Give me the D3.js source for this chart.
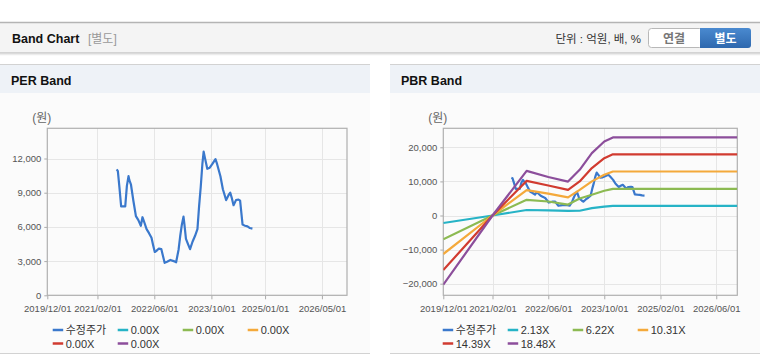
<!DOCTYPE html>
<html>
<head>
<meta charset="utf-8">
<script src="https://cdn.jsdelivr.net/npm/d3@7"></script>
<style>
  body { margin: 0; background: #fff; }
  svg { display: block; font-family: "Liberation Sans", "Noto Sans CJK KR", sans-serif; }
</style>
</head>
<body>
<svg id="chart" width="760" height="364"></svg>
<script>
// ---- data ----
var perTicks = ["2019/12/01", "2021/02/01", "2022/06/01", "2023/10/01", "2025/01/01", "2026/05/01"];
var pbrTicks = ["2019/12/01", "2021/02/01", "2022/06/01", "2023/10/01", "2025/02/01", "2026/06/01"];
var perYTicks = [0, 3000, 6000, 9000, 12000];
var pbrYTicks = [-20000, -10000, 0, 10000, 20000];

var perLegend = ["수정주가", "0.00X", "0.00X", "0.00X", "0.00X", "0.00X"];
var pbrLegend = ["수정주가", "2.13X", "6.22X", "10.31X", "14.39X", "18.48X"];
var seriesColors = ["#3a78cc", "#26b3c6", "#8cba52", "#f4a93b", "#d13b30", "#8c4e9b"];

// adjusted share price (수정주가)
var priceDates = [
  "2021/07/15", "2021/07/25", "2021/08/08", "2021/08/22", "2021/09/05", "2021/09/26",
  "2021/10/10", "2021/10/24", "2021/10/31", "2021/11/14", "2021/12/05", "2021/12/26",
  "2022/01/16", "2022/02/06", "2022/02/20", "2022/03/06", "2022/03/27", "2022/04/17",
  "2022/05/08", "2022/05/22", "2022/06/05", "2022/06/19", "2022/07/10", "2022/07/31",
  "2022/08/14", "2022/08/28", "2022/09/18", "2022/10/16", "2022/11/13", "2022/12/04",
  "2022/12/25", "2023/01/08", "2023/01/22", "2023/02/05", "2023/02/12", "2023/02/26",
  "2023/03/19", "2023/04/02", "2023/04/23", "2023/05/14", "2023/06/04", "2023/06/18",
  "2023/07/02", "2023/07/16", "2023/07/27", "2023/08/06", "2023/08/27", "2023/09/17",
  "2023/10/08", "2023/11/05", "2023/11/19", "2023/12/17", "2024/01/07", "2024/02/04",
  "2024/02/25", "2024/03/10", "2024/03/24", "2024/04/07", "2024/04/28", "2024/05/19",
  "2024/06/02", "2024/06/23", "2024/07/14", "2024/08/04", "2024/08/25", "2024/09/15"
];
var priceValues = [
  11050, 10900, 9400, 7800, 7800, 7800,
  9600, 10450, 10100, 9700, 8250, 6950,
  6600, 6100, 6850, 6450, 5800, 5450,
  5050, 4400, 3800, 3900, 4100, 4050,
  3450, 2850, 2950, 3100, 3000, 2900,
  4000, 5200, 6200, 6900, 6300, 4950,
  4400, 4050, 4700, 5200, 5800, 7800,
  9500, 11500, 12600, 12100, 11100, 11200,
  11500, 11950, 11500, 10450, 9300, 8350,
  8800, 9000, 8500, 7900, 8350, 8400,
  8300, 6200, 6100, 6050, 5900, 5850
];

// PBR band lines
var bandDates = ["2019/12/01", "2021/02/01", "2021/11/25", "2022/06/01", "2022/11/20",
                 "2023/03/01", "2023/06/15", "2023/10/01", "2023/12/15", "2026/12/01"];
var band213 = [-2200, 0, 1620, 1500, 1350, 1400, 2150, 2600, 2800, 2800];
var band622 = [-7000, 0, 4600, 4100, 3200, 5000, 6100, 7250, 7800, 7800];
var band1031 = [-11300, 0, 7450, 6400, 5300, 7500, 10000, 11950, 12900, 12900];
var band1439 = [-16000, 0, 10150, 8800, 7500, 10000, 13900, 16800, 17950, 17950];
var band1848 = [-20300, 0, 13100, 11300, 9950, 13400, 18300, 21700, 22900, 22900];

var parse = d3.timeParse("%Y/%m/%d");
var svg = d3.select("#chart");

// ---- page header ----
svg.append("rect").attr("x", 0).attr("y", 22).attr("width", 760).attr("height", 31)
  .attr("fill", "#f4f4f4");
svg.append("line").attr("x1", 0).attr("x2", 760).attr("y1", 22.5).attr("y2", 22.5)
  .attr("stroke", "#b4b4b4").attr("stroke-width", 1.5);
svg.append("line").attr("x1", 0).attr("x2", 760).attr("y1", 53).attr("y2", 53)
  .attr("stroke", "#c8c8c8").attr("stroke-width", 1.5);
svg.append("line").attr("x1", 0).attr("x2", 760).attr("y1", 54.5).attr("y2", 54.5)
  .attr("stroke", "#ececec").attr("stroke-width", 1.5);

svg.append("text").attr("x", 12).attr("y", 43).attr("font-size", 12.5)
  .attr("font-weight", "bold").attr("fill", "#111").text("Band Chart");
svg.append("text").attr("x", 88).attr("y", 43).attr("font-size", 12)
  .attr("fill", "#999").text("[별도]");
svg.append("text").attr("x", 641).attr("y", 43).attr("font-size", 11.5)
  .attr("text-anchor", "end").attr("fill", "#333").text("단위 : 억원, 배, %");

// toggle buttons
svg.append("rect").attr("x", 648.5).attr("y", 28.5).attr("width", 54).attr("height", 19)
  .attr("rx", 3).attr("fill", "#fff").attr("stroke", "#b8b8b8");
svg.append("text").attr("x", 674).attr("y", 42.5).attr("font-size", 12).attr("font-weight", "bold")
  .attr("text-anchor", "middle").attr("fill", "#777").text("연결");
var grad = svg.append("defs").append("linearGradient").attr("id", "btnBlue")
  .attr("x1", 0).attr("x2", 0).attr("y1", 0).attr("y2", 1);
grad.append("stop").attr("offset", "0%").attr("stop-color", "#4a8ad0");
grad.append("stop").attr("offset", "100%").attr("stop-color", "#2e68ae");
svg.append("path").attr("d", "M700,28 H748 Q751,28 751,31 V45 Q751,48 748,48 H700 Z")
  .attr("fill", "url(#btnBlue)");
svg.append("text").attr("x", 725.5).attr("y", 42.5).attr("font-size", 12).attr("font-weight", "bold")
  .attr("text-anchor", "middle").attr("fill", "#fff").text("별도");

svg.append("defs").append("clipPath").attr("id", "dummy");

/* draws one band panel (header, axes, lines, legend) */
function drawPanel(opt) {
  var g = svg.append("g");

  // panel background and header
  g.append("rect").attr("x", opt.left).attr("y", 64).attr("width", 370).attr("height", 289)
    .attr("fill", "#fbfbfb");
  g.append("rect").attr("x", opt.left).attr("y", 64).attr("width", 370).attr("height", 29)
    .attr("fill", "#eef2f7");
  g.append("line").attr("x1", opt.left).attr("x2", opt.left + 370).attr("y1", 64.5).attr("y2", 64.5)
    .attr("stroke", "#d2d2d2");
  g.append("line").attr("x1", opt.left).attr("x2", opt.left + 370).attr("y1", 353.5).attr("y2", 353.5)
    .attr("stroke", "#d2d2d2");
  g.append("text").attr("x", opt.left + 11).attr("y", 85).attr("font-size", 12.5)
    .attr("font-weight", "bold").attr("fill", "#111").text(opt.title);

  var x = d3.scaleTime()
    .domain([parse("2019/12/01"), parse("2026/12/01")])
    .range([opt.plotLeft, opt.plotRight]);
  var y = d3.scaleLinear().domain(opt.yDomain).range([295.3, 128.3]);

  // unit label
  g.append("text").attr("x", opt.plotLeft - 15).attr("y", 122).attr("font-size", 12)
    .attr("fill", "#666").text("(원)");

  // grid
  g.selectAll(".hgrid").data(opt.yTicks).enter().append("line")
    .attr("x1", opt.plotLeft).attr("x2", opt.plotRight)
    .attr("y1", function(d) { return Math.round(y(d)) + 0.5; })
    .attr("y2", function(d) { return Math.round(y(d)) + 0.5; })
    .attr("stroke", "#e6e6e6");
  g.selectAll(".vgrid").data(opt.xTicks.slice(1)).enter().append("line")
    .attr("x1", function(d) { return Math.round(x(parse(d))) + 0.5; })
    .attr("x2", function(d) { return Math.round(x(parse(d))) + 0.5; })
    .attr("y1", 128.3).attr("y2", 295.3)
    .attr("stroke", "#e6e6e6");

  // axes
  var xAxis = d3.axisBottom(x)
    .tickValues(opt.xTicks.map(parse))
    .tickFormat(d3.timeFormat("%Y/%m/%d"))
    .tickSizeInner(4).tickSizeOuter(0).tickPadding(6);
  var yAxis = d3.axisLeft(y)
    .tickValues(opt.yTicks)
    .tickFormat(d3.format(","))
    .tickSizeInner(3).tickSizeOuter(0).tickPadding(3);

  var ax = g.append("g").attr("transform", "translate(0,295.3)").call(xAxis);
  var ay = g.append("g").attr("transform", "translate(" + opt.plotLeft + ",0)").call(yAxis);
  [ax, ay].forEach(function(a) {
    a.select(".domain").remove();
    a.selectAll(".tick line").attr("stroke", "#aaa");
    a.selectAll(".tick text").attr("fill", "#555").attr("font-size", 9.5)
      .attr("font-family", "\"Liberation Sans\", sans-serif");
  });

  // plot frame
  g.append("rect").attr("x", opt.plotLeft).attr("y", 128.3)
    .attr("width", opt.plotRight - opt.plotLeft).attr("height", 167)
    .attr("fill", "none").attr("stroke", "#b0b0b0").attr("stroke-width", 1.2);

  var clipId = "clip" + opt.left;
  svg.select("defs").append("clipPath").attr("id", clipId).append("rect")
    .attr("x", opt.plotLeft).attr("y", 128.3)
    .attr("width", opt.plotRight - opt.plotLeft).attr("height", 167);

  var line = d3.line()
    .x(function(d) { return x(d.date); })
    .y(function(d) { return y(d.value); });

  var lines = g.append("g").attr("clip-path", "url(#" + clipId + ")");

  opt.bands.forEach(function(vals, i) {
    var pts = bandDates.map(function(d, j) { return { date: parse(d), value: vals[j] }; });
    lines.append("path").datum(pts).attr("d", line)
      .attr("fill", "none").attr("stroke", seriesColors[i + 1])
      .attr("stroke-width", 2.2).attr("stroke-linejoin", "round");
  });

  // price line is drawn first in legend order but sits beneath the bands in the PBR panel
  var pricePts = priceDates.map(function(d, j) { return { date: parse(d), value: priceValues[j] }; });
  lines.insert("path", ":first-child").datum(pricePts).attr("d", line)
    .attr("fill", "none").attr("stroke", seriesColors[0])
    .attr("stroke-width", 2.2).attr("stroke-linejoin", "round");

  // legend
  var legend = g.append("g");
  opt.legend.forEach(function(label, i) {
    var lx = opt.legendLeft + (i % 4) * 65,
        ly = 330 + Math.floor(i / 4) * 13.5;
    legend.append("line").attr("x1", lx).attr("x2", lx + 10.5)
      .attr("y1", ly).attr("y2", ly)
      .attr("stroke", seriesColors[i]).attr("stroke-width", 2.5);
    legend.append("text").attr("x", lx + 13).attr("y", ly + 4).attr("font-size", 11)
      .attr("fill", "#333").text(label);
  });
}

drawPanel({
  left: 0, title: "PER Band", plotLeft: 47.3, plotRight: 347,
  yDomain: [0, 14650], yTicks: perYTicks, xTicks: perTicks,
  legend: perLegend, legendLeft: 52.7, bands: []
});

drawPanel({
  left: 390, title: "PBR Band", plotLeft: 443.3, plotRight: 737.3,
  yDomain: [-23400, 25570], yTicks: pbrYTicks, xTicks: pbrTicks,
  legend: pbrLegend, legendLeft: 442.7,
  bands: [band213, band622, band1031, band1439, band1848]
});
</script>
</body>
</html>
